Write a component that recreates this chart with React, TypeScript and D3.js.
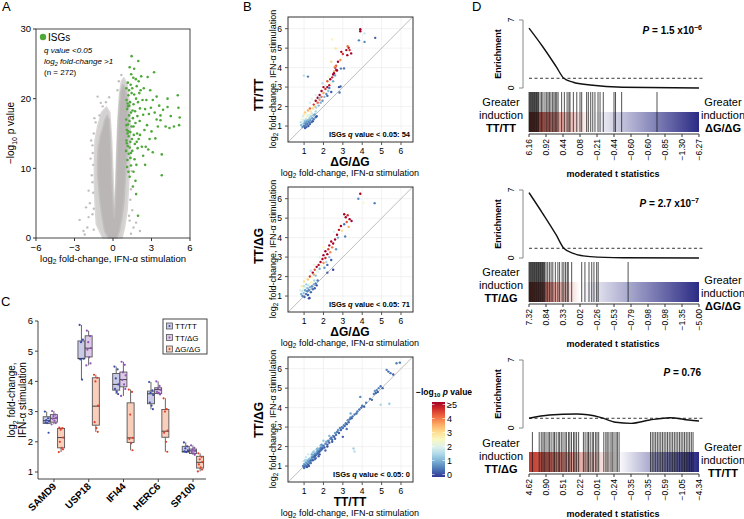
import React from 'react';
import * as d3 from 'd3';

const F = "'Liberation Sans', Arial, Helvetica, sans-serif";

// ---------- Panel A data (volcano) ----------
const volcanoHalo: [number, number][] = [
  [-0.8, 0], [-1.3, 2], [-1.4, 5], [-1.45, 8], [-1.45, 11], [-1.4, 14], [-1.2, 16], [-0.9, 18], [-0.5, 18.8], [-0.25, 18], [-0.1, 14], [0.0, 9], [0.08, 5],
  [0.15, 4.5], [0.22, 8], [0.3, 13], [0.38, 17], [0.5, 20.5], [0.65, 22.5], [0.85, 23], [1.1, 22], [1.3, 19], [1.35, 15], [1.3, 11], [1.2, 7], [1.1, 4], [0.9, 1.5], [0.7, 0],
];
const volcanoCloud: [number, number][] = [
  [-0.35, 0], [-0.65, 1], [-0.85, 3], [-1.0, 5], [-1.1, 7], [-1.2, 9], [-1.2, 11], [-1.15, 13], [-1.0, 14.5], [-0.8, 15.8], [-0.62, 17], [-0.45, 17.6],
  [-0.3, 17.0], [-0.22, 15], [-0.15, 12], [-0.08, 8], [0.02, 4.5], [0.1, 3.0], [0.18, 5], [0.25, 8], [0.32, 12], [0.4, 16], [0.5, 19], [0.6, 21], [0.75, 22],
  [0.95, 21.5], [1.1, 20], [1.2, 17], [1.15, 14], [1.05, 11], [0.95, 8], [0.85, 5], [0.7, 3], [0.5, 1], [0.3, 0],
];
const volcanoGray: [number, number][] = [
  [-2.6, 2.6], [-2.0, 1.5], [-1.6, 3.4], [-1.8, 5.0], [-1.55, 6.5], [-1.65, 9.0], [-1.55, 10.5], [-1.6, 13.3], [-1.2, 20.3], [-1.5, 15.0], [-1.35, 16.6],
  [-2.3, 1.0], [-1.9, 3.0], [-1.5, 4.2], [-1.6, 8.0], [-1.58, 12.2], [1.3, 2.5], [1.5, 4.0], [1.35, 5.5], [1.6, 1.5], [2.1, 1.0], [1.8, 2.2],
  [-1.05, 17.6], [-0.8, 18.9], [0.45, 22.5], [0.65, 23.4], [-1.7, 14], [1.4, 7], [-0.55, 19.5], [-2.2, 0.5], [1.4, 0.6], [-0.3, 20.2], [-1.75, 11.4],
  [-1.9, 6.8], [-1.5, 1.2], [1.25, 3.2], [1.45, 9.6], [-0.95, 19.4], [0.35, 21.2], [-2.1, 4.4], [-1.45, 17.2],
];
const volcanoISG: [number, number][] = [
  [1.02, 12.5], [1.05, 14], [1.08, 15.5], [1.03, 17], [1.1, 18.5], [1.06, 19.8], [1.12, 11.2], [1.15, 13.2], [1.18, 16.3], [1.2, 20.5], [1.04, 21.5], [1.15, 22.3],
  [1.1, 10.2], [1.22, 14.6], [1.25, 17.6], [1.08, 13.6], [1.13, 15], [1.17, 18.9], [1.22, 12.1],
  [1.3, 13], [1.35, 15.2], [1.28, 16.8], [1.4, 18], [1.33, 19.5], [1.45, 20.8], [1.38, 22], [1.42, 23.5], [1.3, 24.5], [1.5, 21.5], [1.48, 14.2], [1.45, 16],
  [1.27, 19], [1.36, 11.5], [1.5, 12.5], [1.55, 17.2], [1.6, 19.2], [1.58, 23], [1.45, 26.1], [1.65, 24.3], [1.62, 14.8],
  [1.7, 13.5], [1.75, 16.5], [1.72, 18.2], [1.8, 20], [1.85, 21.8], [1.78, 22.8], [1.9, 17.5], [1.95, 19.5], [1.97, 25.4], [1.88, 15], [1.92, 12.9], [2.0, 14.2],
  [1.68, 11.3], [1.82, 10.5], [1.6, 9.5], [1.75, 8.2], [1.8, 6.3], [1.95, 3.2], [1.55, 7.4], [1.3, 8.8], [1.2, 9.5], [1.4, 10.4], [2.0, 22.5], [2.05, 20.8],
  [2.1, 18.6], [2.08, 16.8], [2.15, 21.2],
  [2.2, 23.2], [2.3, 19.8], [2.35, 17.7], [2.25, 13.1], [2.1, 14.8], [2.4, 21.5], [2.5, 18.5], [2.55, 13.1], [2.6, 19.8], [2.7, 23.1], [2.65, 16.2], [2.45, 15.5],
  [2.8, 17.8], [2.9, 21.2], [2.85, 14.2], [2.95, 18.7], [2.35, 11.8], [2.5, 10.5], [2.75, 12.7],
  [3.0, 15.3], [3.1, 19.8], [3.2, 23.8], [3.3, 14.3], [3.4, 20.3], [3.4, 17], [3.1, 12.3], [3.7, 17.6], [3.7, 16.9], [3.9, 18.4], [3.8, 9.0], [3.8, 12],
  [3.5, 16.0], [3.25, 18], [3.6, 19],
  [4.1, 16], [4.25, 20], [4.25, 18.8], [4.4, 15.8], [4.75, 16], [5.05, 20.5], [5.1, 18.7], [5.2, 17.3], [5.15, 16.2], [4.5, 17.5],
  [1.05, 16.2], [1.14, 19.3], [1.25, 21.2], [1.35, 13.8], [1.52, 18.3], [1.65, 20.6], [1.4, 12.2], [1.6, 16], [1.85, 13.8], [1.2, 15.3],
];
const volcanoXTicks = [-6, -3, 0, 3, 6];
const volcanoYTicks = [0, 10, 20, 30];

// ---------- Panel B data: [x, y, -log10 p] ----------
const scatterB1: [number, number, number][] = [
  [0.85, 1.05, 1.2], [0.9, 1.2, 2.0], [0.92, 0.95, 0.8], [0.95, 1.1, 1.5], [0.98, 1.3, 1.8], [1.0, 1.0, 0.5], [1.02, 1.15, 0.9], [1.05, 1.25, 1.2], [1.05, 0.9, 0.3],
  [1.08, 1.05, 0.6], [1.1, 1.35, 1.6], [1.1, 1.15, 0.7], [1.12, 0.95, 0.4], [1.15, 1.25, 0.9], [1.15, 1.45, 2.4], [1.18, 1.1, 0.5], [1.2, 1.3, 1.1], [1.2, 1.55, 1.9],
  [1.22, 1.0, 0.3], [1.25, 1.2, 0.6], [1.28, 1.4, 1.3], [1.3, 1.1, 0.4], [1.3, 1.6, 2.6], [1.32, 1.3, 0.8], [1.35, 1.5, 1.4], [1.38, 1.2, 0.5], [1.4, 1.65, 1.8],
  [1.42, 1.4, 0.9], [1.45, 1.25, 0.3], [1.48, 1.55, 1.2], [1.5, 1.35, 0.6], [0.88, 1.35, 2.2], [0.95, 1.5, 1.9], [1.0, 1.6, 2.8], [0.82, 1.2, 1.7], [1.05, 1.7, 3.2],
  [1.12, 1.6, 2.2], [1.55, 1.6, 0.9], [1.6, 1.45, 0.4], [1.6, 1.75, 1.5], [1.65, 1.5, 0.3],
  [1.2, 1.8, 3.5], [1.3, 1.9, 4.0], [1.35, 1.75, 2.8], [1.45, 1.9, 3.0], [1.5, 2.1, 4.5], [1.55, 2.0, 3.2], [1.6, 2.3, 5], [1.62, 1.95, 1.5], [1.7, 2.2, 4.2],
  [1.7, 2.45, 5], [1.75, 2.05, 1.2], [1.8, 2.35, 3.8], [1.8, 2.6, 5], [1.85, 2.2, 1.0], [1.9, 2.5, 4.0], [1.9, 2.8, 5], [1.95, 2.3, 0.8], [2.0, 2.7, 3.6],
  [2.0, 3.0, 5], [2.05, 2.5, 1.1], [2.1, 2.9, 4.5], [2.1, 3.1, 2.0], [2.15, 2.65, 0.7], [2.2, 3.0, 5], [2.2, 3.3, 4.2], [2.25, 2.8, 1.2], [2.3, 3.1, 4.8],
  [2.3, 2.95, 0.5], [2.35, 3.4, 5], [2.4, 3.2, 2.4], [2.4, 2.75, 0.3], [2.45, 3.5, 4.6], [2.5, 3.65, 5], [2.5, 3.3, 1.0], [2.55, 3.8, 3.5], [2.6, 4.0, 5],
  [2.6, 3.6, 0.9], [2.65, 4.1, 4.2], [2.7, 3.85, 5], [2.75, 4.3, 5], [2.8, 3.0, 0.2], [2.9, 3.95, 0.6], [1.4, 2.4, 2.2], [1.6, 2.6, 2.0], [1.3, 2.2, 1.9],
  [1.95, 3.2, 1.6], [2.25, 3.55, 2.2], [2.4, 4.3, 3.1], [2.45, 5.45, 2.6], [2.2, 2.55, 0.4], [1.8, 2.45, 1.3],
  [0.99, 3.59, 1.6], [1.2, 3.54, 0.6], [2.63, 4.98, 2.9], [2.87, 4.39, 3.7], [2.58, 4.05, 3.6], [2.66, 3.88, 5], [2.54, 3.71, 5], [3.06, 3.96, 0.5],
  [2.92, 4.81, 5], [3.0, 4.7, 4.5], [3.18, 4.9, 5], [3.35, 4.9, 4.6], [3.43, 4.73, 5], [3.23, 4.64, 5], [3.3, 5.02, 4.8], [2.88, 3.03, 0.4], [2.83, 2.72, 0.5],
  [3.9, 5.97, 5], [3.9, 5.87, 5], [4.12, 5.75, 1.8], [3.83, 5.4, 0.6], [4.12, 5.32, 0.7], [4.67, 5.53, 0.3], [3.25, 5.1, 4.0],
];
const scatterB2: [number, number, number][] = [
  [0.85, 1.1, 1.0], [0.9, 1.25, 1.8], [0.92, 1.0, 0.6], [0.95, 1.35, 2.2], [0.98, 1.15, 1.2], [1.0, 1.5, 1.6], [1.02, 0.95, 0.4], [1.05, 1.3, 0.9], [1.08, 1.45, 2.0],
  [1.1, 1.1, 0.5], [1.12, 1.6, 1.4], [1.15, 1.25, 0.7], [1.18, 1.4, 1.1], [1.2, 1.05, 0.3], [1.22, 1.55, 1.7], [1.25, 1.3, 0.6], [1.28, 0.9, 0.2], [1.3, 1.65, 2.3],
  [1.32, 1.45, 1.0], [1.35, 1.2, 0.4], [1.38, 1.7, 2.6], [1.4, 1.5, 0.8], [1.45, 1.35, 0.5], [1.5, 1.6, 1.1], [1.52, 1.8, 1.5], [1.55, 1.4, 0.3], [0.88, 1.5, 2.8],
  [0.8, 1.3, 1.9], [1.0, 1.75, 3.0], [1.1, 1.9, 2.4], [1.6, 1.65, 0.6], [1.65, 1.55, 0.2], [1.25, 0.88, 0.2], [1.7, 1.8, 0.5],
  [1.2, 1.85, 3.2], [1.3, 2.0, 4.5], [1.4, 1.95, 2.5], [1.45, 2.2, 5], [1.5, 2.1, 3.6], [1.55, 2.35, 4.2], [1.6, 2.05, 1.2], [1.65, 2.5, 5], [1.7, 2.25, 2.0],
  [1.75, 2.6, 4.8], [1.8, 2.4, 1.0], [1.85, 2.75, 5], [1.9, 2.55, 2.4], [1.95, 2.9, 5], [2.0, 2.7, 3.8], [2.0, 3.1, 5], [2.05, 2.45, 0.8], [2.1, 2.95, 4.6],
  [2.1, 3.3, 5], [2.15, 2.75, 1.5], [2.2, 3.15, 5], [2.2, 2.6, 0.4], [2.25, 3.4, 4.4], [2.3, 3.0, 1.2], [2.3, 3.6, 5], [2.35, 3.25, 3.8], [2.4, 3.8, 5],
  [2.4, 2.85, 0.3], [2.45, 3.5, 4.0], [2.5, 3.7, 5], [2.5, 2.35, 0.1], [2.55, 4.3, 2.0], [2.6, 3.9, 5], [2.65, 3.4, 0.8], [2.7, 4.15, 5], [2.75, 4.0, 1.0],
  [2.8, 4.4, 4.8], [1.5, 2.6, 2.2], [1.35, 2.3, 1.7], [1.8, 3.0, 2.0], [2.0, 3.5, 2.6], [2.2, 2.2, 0.3],
  [2.9, 4.6, 5], [3.07, 5.2, 5], [3.15, 5.05, 5], [3.25, 5.15, 4.6], [3.35, 4.95, 5], [3.45, 4.85, 5], [3.2, 4.8, 4.2], [3.07, 4.69, 0.5], [3.12, 4.06, 0.6],
  [3.9, 6.25, 5], [3.8, 6.0, 0.7], [4.08, 5.8, 2.4], [4.64, 5.77, 0.6], [2.95, 4.35, 3.0], [3.3, 4.55, 3.5],
];
const scatterB3: [number, number, number][] = [
  [0.95, 1.0, 0.6], [1.0, 1.1, 0.9], [1.02, 0.95, 0.4], [1.05, 1.05, 0.7], [1.08, 1.2, 1.2], [1.1, 1.0, 0.5], [1.12, 1.15, 0.8], [1.15, 1.3, 1.4], [1.18, 1.1, 0.6],
  [1.2, 1.25, 0.9], [1.22, 1.05, 0.3], [1.25, 1.35, 1.1], [1.28, 1.2, 0.5], [1.3, 1.4, 1.3], [1.32, 1.25, 0.7], [1.35, 1.3, 0.4], [1.38, 1.5, 1.6], [1.4, 1.35, 0.8],
  [1.42, 1.45, 0.6], [1.45, 1.3, 0.3], [1.48, 1.55, 1.0], [1.5, 1.45, 0.5], [1.52, 1.6, 0.9], [1.55, 1.5, 0.4], [1.58, 1.65, 0.7], [1.6, 1.55, 0.3], [1.62, 1.7, 1.2],
  [1.65, 1.6, 0.6], [1.68, 1.75, 0.9], [1.7, 1.65, 0.4], [1.72, 1.8, 0.7], [1.75, 1.7, 0.5], [1.78, 1.85, 1.0], [1.8, 1.75, 0.3], [1.82, 1.9, 0.8], [1.85, 1.8, 0.5],
  [1.88, 1.95, 0.6], [1.9, 1.85, 0.4], [1.92, 2.0, 0.9], [1.95, 1.9, 0.3], [0.98, 1.25, 1.7], [1.05, 1.3, 1.5], [1.1, 1.45, 1.8], [1.2, 1.6, 1.9], [1.25, 1.0, 0.3],
  [1.35, 1.15, 0.4], [1.45, 1.7, 1.4], [1.55, 1.35, 0.5], [1.65, 1.85, 1.1], [1.75, 1.5, 0.3], [1.85, 2.05, 1.2], [1.0, 0.9, 0.5], [1.15, 0.95, 0.3], [1.3, 1.15, 0.6],
  [1.4, 1.6, 1.0], [1.5, 1.75, 1.3], [1.6, 1.4, 0.4], [1.7, 1.9, 1.1], [1.8, 1.6, 0.2], [1.9, 2.1, 0.8],
  [2.0, 2.05, 0.5], [2.05, 1.95, 0.3], [2.1, 2.15, 0.7], [2.15, 2.25, 0.9], [2.2, 2.1, 0.4], [2.25, 2.3, 0.6], [2.3, 2.2, 0.3], [2.35, 2.4, 0.8], [2.4, 2.45, 0.5],
  [2.45, 2.35, 0.4], [2.5, 2.55, 0.7], [2.55, 2.5, 0.3], [2.6, 2.7, 0.9], [2.65, 2.6, 0.5], [2.7, 2.75, 0.6], [2.75, 2.85, 0.8], [2.8, 2.7, 0.3], [2.85, 2.95, 0.7],
  [2.9, 2.85, 0.4], [2.95, 3.0, 0.6], [2.1, 1.8, 0.4], [2.3, 2.55, 1.1], [2.45, 2.25, 0.3], [2.0, 2.3, 1.3], [2.6, 2.4, 0.4], [2.2, 2.0, 0.2],
  [3.0, 2.95, 0.5], [3.05, 3.1, 0.7], [3.1, 3.05, 0.4], [3.15, 3.2, 0.6], [3.2, 3.15, 0.3], [3.25, 3.35, 0.8], [3.3, 3.25, 0.4], [3.35, 3.4, 0.6], [3.4, 3.5, 0.7],
  [3.45, 3.45, 0.3], [3.5, 3.55, 0.5], [3.55, 1.9, 1.4], [3.6, 1.75, 1.6], [3.6, 3.65, 0.6], [3.7, 3.7, 0.4], [3.75, 3.8, 0.6], [3.85, 3.9, 0.5], [3.9, 4.55, 0.7],
  [3.95, 4.0, 0.4], [3.0, 2.5, 0.3], [3.2, 2.9, 0.5], [3.4, 3.7, 1.0],
  [4.0, 4.1, 0.5], [4.1, 4.05, 0.3], [4.2, 4.25, 0.6], [4.4, 4.45, 0.5], [4.6, 4.7, 0.6], [4.65, 4.85, 0.8], [4.7, 4.75, 0.4], [4.75, 4.9, 0.6], [4.8, 4.8, 0.3],
  [4.85, 5.0, 0.7], [4.95, 5.1, 0.5], [5.05, 5.0, 0.4], [4.95, 4.15, 1.5], [5.4, 4.2, 1.3], [5.26, 5.94, 0.6], [5.46, 5.77, 0.5], [5.35, 5.85, 0.4],
  [5.77, 6.28, 0.6], [5.94, 6.31, 0.5], [5.6, 5.7, 0.3], [4.5, 4.4, 0.4],
];
const scatterTicks = [1, 2, 3, 4, 5, 6];
const colorbarTicks = [0, 1, 2, 3, 4, 5];

// ---------- Panel C data ----------
const genes = ['SAMD9', 'USP18', 'IFI44', 'HERC6', 'SP100'];
const genotypes = ['TT/TT', 'TT/ΔG', 'ΔG/ΔG'];
// [q1, median, q3, whiskerLow, whiskerHigh]
const boxTT: number[][] = [[2.61, 2.70, 2.83, 2.60, 3.0], [4.75, 4.76, 5.34, 4.06, 5.87], [3.71, 3.9, 4.26, 3.58, 4.49], [3.26, 3.59, 3.68, 3.08, 3.98], [1.66, 1.68, 1.85, 1.65, 1.98]];
const boxTD: number[][] = [[2.65, 2.78, 2.9, 2.58, 3.02], [4.81, 5.1, 5.51, 4.53, 5.68], [3.82, 4.06, 4.31, 3.52, 4.65], [3.6, 3.73, 3.79, 3.57, 4.0], [1.61, 1.70, 1.76, 1.57, 1.88]];
const boxDD: number[][] = [[1.80, 2.14, 2.44, 1.66, 2.47], [2.55, 3.18, 4.12, 2.33, 4.22], [1.98, 2.13, 3.29, 1.72, 3.73], [2.15, 2.35, 3.07, 1.67, 3.44], [1.13, 1.32, 1.52, 1.02, 1.62]];
const ptsTT: number[][] = [[3.0, 2.78, 2.72, 2.68, 2.64, 2.62, 2.3], [5.87, 5.38, 5.3, 4.75, 4.73, 4.06], [4.49, 4.4, 4.1, 3.9, 3.75, 3.65, 3.58], [3.98, 3.7, 3.62, 3.55, 3.3, 3.2, 3.08], [1.98, 1.85, 1.78, 1.72, 1.68, 1.66]];
const ptsTD: number[][] = [[3.02, 2.9, 2.85, 2.8, 2.76, 2.7, 2.62, 2.58], [5.68, 5.5, 5.3, 5.1, 5.05, 4.8, 4.6, 4.53], [4.65, 4.55, 4.3, 4.2, 4.05, 3.9, 3.75, 3.52], [4.0, 3.85, 3.78, 3.72, 3.65, 3.62, 3.57], [1.88, 1.8, 1.74, 1.7, 1.66, 1.62, 1.57]];
const ptsDD: number[][] = [[2.47, 2.45, 2.4, 2.14, 2.0, 1.8, 1.75, 1.66], [4.22, 4.12, 4.0, 3.2, 2.65, 2.45, 2.33], [3.73, 3.65, 2.9, 2.13, 2.1, 1.95, 1.72], [3.44, 3.08, 3.0, 2.37, 2.3, 2.0, 1.67], [1.62, 1.5, 1.42, 1.33, 1.25, 1.15, 1.08, 1.02]];
const boxYTicks = [1, 2, 3, 4, 5, 6];

// ---------- Panel D data ----------
const curveD1x = [0, 0.08, 0.16, 0.205, 0.26, 0.36, 0.55, 1];
const curveD1y = [6.16, 4.27, 2.2, 1.0, 0.59, 0.31, 0.07, 0.0];
const curveD2x = [0, 0.08, 0.16, 0.205, 0.26, 0.36, 0.55, 1];
const curveD2y = [6.73, 4.6, 2.37, 1.0, 0.48, 0.14, 0.03, 0.0];
const curveD3x = [0, 0.12, 0.28, 0.42, 0.51, 0.6, 0.71, 0.83, 0.94, 1];
const curveD3y = [1.0, 1.34, 1.44, 1.1, 0.59, 0.48, 0.82, 1.06, 0.82, 0.72];
const barsD1 = [0, 0.004, 0.008, 0.012, 0.016, 0.02, 0.024, 0.028, 0.032, 0.036, 0.04, 0.044, 0.048, 0.052, 0.056, 0.065, 0.074, 0.082, 0.094, 0.104, 0.112, 0.12,
  0.129, 0.139, 0.147, 0.155, 0.163, 0.171, 0.192, 0.208, 0.224, 0.235, 0.241, 0.261, 0.281, 0.3, 0.31, 0.339, 0.349, 0.363, 0.375, 0.388, 0.406, 0.418, 0.437,
  0.5, 0.509, 0.545, 0.753];
const barsD2 = [0, 0.004, 0.008, 0.012, 0.016, 0.02, 0.024, 0.028, 0.032, 0.036, 0.04, 0.044, 0.048, 0.052, 0.056, 0.06, 0.064, 0.068, 0.072, 0.076, 0.08, 0.084,
  0.088, 0.092, 0.1, 0.11, 0.12, 0.13, 0.14, 0.155, 0.17, 0.18, 0.195, 0.205, 0.215, 0.225, 0.231, 0.251, 0.31, 0.329, 0.353, 0.369, 0.382, 0.398, 0.407, 0.583];
const barsD3 = [0.02, 0.06, 0.072, 0.082, 0.09, 0.1, 0.112, 0.12, 0.13, 0.142, 0.15, 0.16, 0.172, 0.18, 0.19, 0.2, 0.212, 0.22, 0.232, 0.24, 0.25, 0.262, 0.27,
  0.28, 0.292, 0.32, 0.33, 0.342, 0.35, 0.36, 0.372, 0.38, 0.392, 0.4, 0.41, 0.44, 0.452, 0.46, 0.47, 0.482, 0.49, 0.5, 0.512, 0.52, 0.53, 0.715, 0.725, 0.735,
  0.745, 0.755, 0.765, 0.775, 0.785, 0.795, 0.805, 0.815, 0.825, 0.835, 0.845, 0.855, 0.865, 0.875, 0.885, 0.895, 0.905, 0.915, 0.925, 0.935, 0.945, 0.955, 0.965];
const ticksD1 = ['6.16', '0.92', '0.44', '0.08', '−0.21', '−0.44', '−0.60', '−0.60', '−0.85', '−1.30', '−6.27'];
const ticksD2 = ['7.32', '0.84', '0.33', '0.02', '−0.26', '−0.53', '−0.79', '−0.98', '−0.98', '−1.35', '−5.00'];
const ticksD3 = ['4.62', '0.90', '0.51', '0.22', '−0.01', '−0.24', '−0.35', '−0.35', '−0.59', '−1.05', '−4.34'];

// ---------- helpers ----------
const Log2Text = ({ size, rest }: { size: number; rest: string }) => (
  <>
    log<tspan dy={size * 0.25} fontSize={size * 0.7}>2</tspan>
    <tspan dy={-size * 0.25}>{rest}</tspan>
  </>
);

function PanelA() {
  const x = d3.scaleLinear().domain([-6, 6]).range([36, 190]);
  const y = d3.scaleLinear().domain([0, 30]).range([238, 29]);
  const toPts = (arr: [number, number][]) => arr.map(([a, b]) => `${x(a)},${y(b)}`).join(' ');
  return (
    <g fontFamily={F}>
      <text x={2} y={11} fontSize={13}>A</text>
      <polygon points={toPts(volcanoHalo)} fill="#d4d1d1" stroke="#dad7d7" strokeWidth={1.5} strokeLinejoin="round" />
      <polygon points={toPts(volcanoCloud)} fill="#bab6b6" stroke="#c2bfbf" strokeWidth={1.5} strokeLinejoin="round" />
      {volcanoGray.map(([a, b], i) => <circle key={i} cx={x(a)} cy={y(b)} r={1.2} fill="#c2bebe" />)}
      {volcanoISG.map(([a, b], i) => <circle key={i} cx={x(a)} cy={y(b)} r={1.3} fill="#4ea83a" />)}
      <rect x={36} y={29} width={154} height={209} fill="none" stroke="#333" strokeWidth={0.9} />
      {volcanoXTicks.map((t) => (
        <g key={t}>
          <line x1={x(t)} x2={x(t)} y1={238} y2={241} stroke="#333" />
          <text x={x(t)} y={251} fontSize={9.5} textAnchor="middle">{t < 0 ? `−${-t}` : t}</text>
        </g>
      ))}
      {volcanoYTicks.map((t) => (
        <g key={t}>
          <line x1={33} x2={36} y1={y(t)} y2={y(t)} stroke="#333" />
          <text x={31} y={y(t) + 3.3} fontSize={9.5} textAnchor="end">{t}</text>
        </g>
      ))}
      <text transform="translate(14,133) rotate(-90)" fontSize={10} textAnchor="middle">
        −log<tspan dy={2.5} fontSize={7}>10</tspan><tspan dy={-2.5}> p value</tspan>
      </text>
      <text x={113} y={262} fontSize={9.5} textAnchor="middle"><Log2Text size={9.5} rest=" fold-change, IFN-α stimulation" /></text>
      <circle cx={43} cy={37} r={3.2} fill="#4ea83a" />
      <text x={48} y={40.5} fontSize={10}>ISGs</text>
      <text x={44} y={53} fontSize={8} fontStyle="italic">q value &lt;0.05</text>
      <text x={44} y={64} fontSize={8} fontStyle="italic"><Log2Text size={8} rest=" fold-change >1" /></text>
      <text x={44} y={75} fontSize={8}>(n = 272)</text>
    </g>
  );
}

const pColor = (p: number) => d3.interpolateRdYlBu(1 - Math.min(p, 5) / 5);

function PanelB({ top, data, xTitle, yTitle, n, xTitleY }: { top: number; data: [number, number, number][]; xTitle: string; yTitle: string; n: number; xTitleY: number }) {
  const x = d3.scaleLinear().domain([0.17, 6.62]).range([288, 413]);
  const y = d3.scaleLinear().domain([0.18, 6.6]).range([top + 125, top]);
  return (
    <g fontFamily={F}>
      {scatterTicks.map((t) => <line key={'gx' + t} x1={x(t)} x2={x(t)} y1={top} y2={top + 125} stroke="#ededed" strokeWidth={0.7} />)}
      {scatterTicks.map((t) => <line key={'gy' + t} y1={y(t)} y2={y(t)} x1={288} x2={413} stroke="#ededed" strokeWidth={0.7} />)}
      <line x1={x(0.18)} y1={y(0.18)} x2={x(6.6)} y2={y(6.6)} stroke="#b5b5b5" strokeWidth={0.9} />
      {data.map(([a, b, p], i) => <circle key={i} cx={x(a)} cy={y(b)} r={1.2} fill={pColor(p)} />)}
      <rect x={288} y={top} width={125} height={125} fill="none" stroke="#333" strokeWidth={1} />
      {scatterTicks.map((t) => (
        <g key={'t' + t}>
          <line x1={x(t)} x2={x(t)} y1={top + 125} y2={top + 128} stroke="#555" />
          <text x={x(t)} y={top + 136.5} fontSize={8.5} textAnchor="middle">{t}</text>
          <line x1={285} x2={288} y1={y(t)} y2={y(t)} stroke="#555" />
          <text x={282} y={y(t) + 3} fontSize={8.5} textAnchor="end">{t}</text>
        </g>
      ))}
      <text x={410} y={top + 120} fontSize={7.5} fontWeight="bold" textAnchor="end">
        ISGs <tspan fontStyle="italic">q</tspan> value &lt; 0.05: {n}
      </text>
      <text transform={`translate(263,${xTitleY}) rotate(-90)`} fontSize={12} fontWeight="bold" textAnchor="middle">{yTitle}</text>
      <text transform={`translate(276,${top + 62}) rotate(-90)`} fontSize={9} textAnchor="middle"><Log2Text size={9} rest=" fold-change, IFN-α stimulation" /></text>
      <text x={350} y={top + 149} fontSize={12} fontWeight="bold" textAnchor="middle">{xTitle}</text>
      <text x={350} y={top + 159} fontSize={9} textAnchor="middle"><Log2Text size={9} rest=" fold-change, IFN-α stimulation" /></text>
    </g>
  );
}

function Colorbar() {
  const y = d3.scaleLinear().domain([0, 5]).range([474.5, 404.5]);
  const stops = d3.range(0, 1.0001, 0.1);
  return (
    <g fontFamily={F}>
      <defs>
        <linearGradient id="cbar" x1="0" y1="1" x2="0" y2="0">
          {stops.map((s) => <stop key={s} offset={s} stopColor={pColor(s * 5)} />)}
        </linearGradient>
      </defs>
      <text x={416} y={395} fontSize={8.5} fontWeight="bold">
        −log<tspan dy={2.2} fontSize={6}>10</tspan><tspan dy={-2.2} fontStyle="italic"> p</tspan> value
      </text>
      <rect x={432} y={402} width={13} height={75} fill="url(#cbar)" />
      {colorbarTicks.map((t) => (
        <g key={t}>
          <line x1={432} x2={434.5} y1={y(t)} y2={y(t)} stroke="#fff" strokeWidth={0.6} />
          <line x1={442.5} x2={445} y1={y(t)} y2={y(t)} stroke="#fff" strokeWidth={0.6} />
          <text x={447} y={y(t) + 3.3} fontSize={9}>{t === 5 ? '≥5' : t}</text>
        </g>
      ))}
    </g>
  );
}

function PanelC() {
  const band = d3.scaleBand().domain(genes).range([36.6, 210.4]).padding(0);
  const y = d3.scaleLinear().domain([1, 6]).range([472, 321]);
  const offs = d3.scalePoint().domain(genotypes).range([-7.3, 7.1]);
  const fills = ['#c9c9e8', '#dccbe8', '#f9cfbb'];
  const pcols = ['#3a4ba8', '#9352b8', '#e4402a'];
  const boxes = [boxTT, boxTD, boxDD];
  const pts = [ptsTT, ptsTD, ptsDD];
  const jit = [-1.8, 1.4, -0.4, 2.2, -1.2, 0.6, 1.9, -2.3];
  const bw = 7;
  return (
    <g fontFamily={F}>
      <text x={1} y={306} fontSize={13}>C</text>
      <line x1={38} x2={38} y1={y(6)} y2={479} stroke="#444" />
      <line x1={38} x2={206} y1={479} y2={479} stroke="#444" />
      {boxYTicks.map((t) => (
        <g key={t}>
          <line x1={35} x2={38} y1={y(t)} y2={y(t)} stroke="#444" />
          <text x={33} y={y(t) + 3.3} fontSize={9.5} textAnchor="end">{t}</text>
        </g>
      ))}
      {genes.map((g, gi) => {
        const cx = (band(g) as number) + band.bandwidth() / 2;
        return (
          <g key={g}>
            <line x1={cx} x2={cx} y1={479} y2={482} stroke="#444" />
            <text transform={`translate(${cx + 3},${487}) rotate(-45)`} fontSize={10} fontWeight="bold" textAnchor="end">{g}</text>
            {genotypes.map((gt, k) => {
              const bx = cx + (offs(gt) as number);
              const [q1, md, q3, lo, hi] = boxes[k][gi];
              return (
                <g key={gt}>
                  <line x1={bx} x2={bx} y1={y(hi)} y2={y(q3)} stroke="#555" strokeWidth={0.9} />
                  <line x1={bx} x2={bx} y1={y(q1)} y2={y(lo)} stroke="#555" strokeWidth={0.9} />
                  <rect x={bx - bw / 2} y={y(q3)} width={bw} height={y(q1) - y(q3)} fill={fills[k]} stroke="#555" strokeWidth={0.9} />
                  <line x1={bx - bw / 2} x2={bx + bw / 2} y1={y(md)} y2={y(md)} stroke="#333" strokeWidth={0.9} />
                  {pts[k][gi].map((v, i) => <circle key={i} cx={bx + jit[i % jit.length]} cy={y(v)} r={1.1} fill={pcols[k]} />)}
                </g>
              );
            })}
          </g>
        );
      })}
      <text transform="translate(15,400) rotate(-90)" fontSize={10} textAnchor="middle"><Log2Text size={10} rest=" fold-change," /></text>
      <text transform="translate(26,400) rotate(-90)" fontSize={10} textAnchor="middle">IFN-α stimulation</text>
      <rect x={163} y={319} width={44} height={35} fill="#fff" stroke="#333" strokeWidth={0.9} />
      {genotypes.map((gt, k) => {
        const ly = 326 + k * 11.5;
        return (
          <g key={gt}>
            <rect x={166.5} y={ly - 3} width={6} height={6} fill={fills[k]} stroke="#555" strokeWidth={0.8} />
            <circle cx={169.5} cy={ly} r={1} fill={pcols[k]} />
            <text x={175} y={ly + 3} fontSize={8}>{gt}</text>
          </g>
        );
      })}
    </g>
  );
}

function PanelD({ y0, cx, cy, bars, ticks, whiteAt, leftLab, rightLab, pMain, pExp, pX, pY, leftY, rightY, id }: any) {
  const x = d3.scaleLinear().domain([0, 1]).range([529, 699]);
  const y = d3.scaleLinear().domain([0, 7]).range([y0 + 88, y0 + 20]);
  const pts = cx.map((v: number, i: number) => [x(v), y(cy[i])] as [number, number]);
  const path = d3.line().curve(d3.curveMonotoneX)(pts) as string;
  const tickPos = d3.range(ticks.length).map((i) => i / (ticks.length - 1));
  return (
    <g fontFamily={F}>
      <defs>
        <linearGradient id={id} x1="0" x2="1" y1="0" y2="0">
          <stop offset={0} stopColor="#c23b2e" />
          <stop offset={whiteAt} stopColor="#ffffff" />
          <stop offset={1} stopColor="#2b2b85" />
        </linearGradient>
      </defs>
      <line x1={523} x2={523} y1={y(7)} y2={y(0)} stroke="#888" strokeWidth={1} />
      <line x1={519} x2={523} y1={y(7)} y2={y(7)} stroke="#888" />
      <line x1={519} x2={523} y1={y(0)} y2={y(0)} stroke="#888" />
      <text transform={`translate(514,${y(7)}) rotate(-90)`} fontSize={8.5} textAnchor="middle">7</text>
      <text transform={`translate(514,${y(0)}) rotate(-90)`} fontSize={8.5} textAnchor="middle">0</text>
      <text transform={`translate(501,${y0 + 54}) rotate(-90)`} fontSize={9} fontWeight="bold" textAnchor="middle">Enrichment</text>
      <line x1={529} x2={703} y1={y(1)} y2={y(1)} stroke="#222" strokeWidth={0.9} strokeDasharray="3,2.5" />
      <path d={path} fill="none" stroke="#111" strokeWidth={1.4} />
      <text x={pX} y={y0 + pY} fontSize={10} fontWeight="bold" textAnchor="end">
        <tspan fontStyle="italic">P</tspan>{'  = ' + pMain}
        {pExp ? <tspan dy={-4} fontSize={7}>{pExp}</tspan> : null}
      </text>
      <rect x={529} y={y0 + 112} width={170} height={20} fill={`url(#${id})`} />
      {bars.map((b: number, i: number) => (
        <line key={i} x1={x(b)} x2={x(b)} y1={y0 + 92} y2={y0 + 132} stroke="#111" strokeWidth={1} strokeOpacity={0.72} />
      ))}
      <line x1={529} x2={699} y1={y0 + 134} y2={y0 + 134} stroke="#333" />
      {tickPos.map((f: number, i: number) => (
        <g key={i}>
          <line x1={x(f)} x2={x(f)} y1={y0 + 134} y2={y0 + 137} stroke="#333" />
          <text transform={`translate(${x(f) + 3},${y0 + 139}) rotate(-90)`} fontSize={8.5} textAnchor="end">{ticks[i]}</text>
        </g>
      ))}
      <text x={613} y={y0 + 177} fontSize={9} fontWeight="bold" textAnchor="middle">moderated t statistics</text>
      <g fontSize={11} textAnchor="middle">
        <text x={501} y={y0 + leftY}>Greater</text>
        <text x={501} y={y0 + leftY + 13}>induction</text>
        <text x={501} y={y0 + leftY + 26} fontWeight="bold">{leftLab}</text>
        <text x={723} y={y0 + rightY}>Greater</text>
        <text x={723} y={y0 + rightY + 13}>induction</text>
        <text x={723} y={y0 + rightY + 26} fontWeight="bold">{rightLab}</text>
      </g>
    </g>
  );
}

export default function App() {
  return (
    <svg width={744} height={519} style={{ position: 'absolute', left: 0, top: 0, background: '#fff' }} fontFamily={F}>
      <rect width={744} height={519} fill="#fff" />
      <PanelA />
      <text x={243} y={11} fontSize={13} fontFamily={F}>B</text>
      <PanelB top={17} data={scatterB1} xTitle="ΔG/ΔG" yTitle="TT/TT" n={54} xTitleY={95} />
      <PanelB top={187} data={scatterB2} xTitle="ΔG/ΔG" yTitle="TT/ΔG" n={71} xTitleY={246} />
      <PanelB top={357} data={scatterB3} xTitle="TT/TT" yTitle="TT/ΔG" n={0} xTitleY={420} />
      <Colorbar />
      <PanelC />
      <text x={472} y={11} fontSize={13} fontFamily={F}>D</text>
      <PanelD id="gD1" y0={0} cx={curveD1x} cy={curveD1y} bars={barsD1} ticks={ticksD1} whiteAt={0.37} leftLab="TT/TT" rightLab="ΔG/ΔG"
        pMain="1.5 x10" pExp="−6" pX={702} pY={34} leftY={105.5} rightY={105.5} />
      <PanelD id="gD2" y0={170} cx={curveD2x} cy={curveD2y} bars={barsD2} ticks={ticksD2} whiteAt={0.3} leftLab="TT/ΔG" rightLab="ΔG/ΔG"
        pMain="2.7 x10" pExp="−7" pX={699} pY={37} leftY={105.5} rightY={114} />
      <PanelD id="gD3" y0={340} cx={curveD3x} cy={curveD3y} bars={barsD3} ticks={ticksD3} whiteAt={0.52} leftLab="TT/ΔG" rightLab="TT/TT"
        pMain="0.76" pExp={null} pX={701} pY={36} leftY={107} rightY={111} />
    </svg>
  );
}
